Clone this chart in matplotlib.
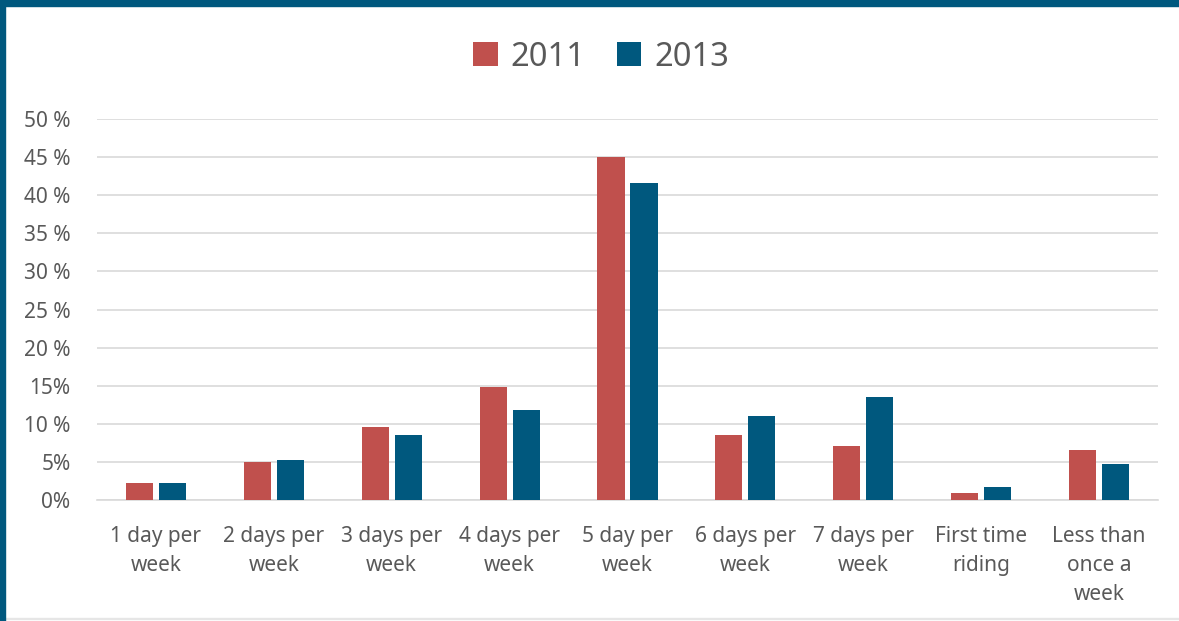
import matplotlib
matplotlib.use("Agg")
import matplotlib.pyplot as plt
import numpy as np
from matplotlib.patches import Rectangle

categories = ["1 day per\nweek", "2 days per\nweek", "3 days per\nweek", "4 days per\nweek",
              "5 day per\nweek", "6 days per\nweek", "7 days per\nweek", "First time\nriding",
              "Less than\nonce a\nweek"]
values_2011 = [2.2, 5.0, 9.6, 14.8, 45.0, 8.5, 7.1, 0.9, 6.6]
values_2013 = [2.2, 5.2, 8.5, 11.8, 41.6, 11.0, 13.5, 1.7, 4.7]
series_names = ["2011", "2013"]
ytick_values = [0, 5, 10, 15, 20, 25, 30, 35, 40, 45, 50]
ytick_labels = ["0%", "5%", "10 %", "15%", "20 %", "25 %", "30 %", "35 %", "40 %", "45 %", "50 %"]

c2011 = "#C0504D"
c2013 = "#00587E"
text_color = "#595959"

plt.rcParams['font.family'] = ['Noto Sans', 'DejaVu Sans']

fig = plt.figure(figsize=(11.79, 6.21), dpi=100)
fig.patch.set_facecolor("white")
ax = fig.add_axes([97/1179, 1 - 500/621, (1158-97)/1179, (500-119)/621])

x = np.arange(len(categories))
w = 0.23
off = 0.14
b1 = ax.bar(x - off, values_2011, width=w, color=c2011, label=series_names[0], zorder=3)
b2 = ax.bar(x + off, values_2013, width=w, color=c2013, label=series_names[1], zorder=3)

ax.set_xlim(-0.5, len(categories) - 0.5)
ax.set_ylim(0, 50)
ax.set_yticks(ytick_values)
ax.set_yticklabels(ytick_labels)
ax.set_xticks(x)
ax.set_xticklabels(categories, linespacing=1.5)
ax.yaxis.grid(True, color="#D9D9D9", linewidth=1.2, zorder=0)
ax.set_axisbelow(True)
for s in ["top", "right", "left"]:
    ax.spines[s].set_visible(False)
ax.spines["bottom"].set_color("#D9D9D9")
ax.spines["bottom"].set_linewidth(1.2)
ax.tick_params(axis="both", length=0, colors=text_color, labelsize=15)
ax.tick_params(axis="y", pad=19)
ax.tick_params(axis="x", pad=19)

leg = fig.legend(handles=[b1, b2], labels=series_names, loc="center",
                 bbox_to_anchor=(601/1179, 1 - 57/621), ncol=2, frameon=False,
                 fontsize=23.5, handlelength=0.75, handleheight=0.75, handletextpad=0.4,
                 columnspacing=0.95, labelcolor=text_color)

# border
fig.patches.append(Rectangle((0, 1 - 6/621), 1, 6/621, transform=fig.transFigure,
                             color=c2013, zorder=10))
fig.patches.append(Rectangle((0, 0), 5/1179, 1, transform=fig.transFigure,
                             color=c2013, zorder=10))
fig.patches.append(Rectangle((0, 2/621), 1, 1.5/621, transform=fig.transFigure,
                             color="#E6E6E6", zorder=9))

fig.savefig("out.png", dpi=100, facecolor="white")
